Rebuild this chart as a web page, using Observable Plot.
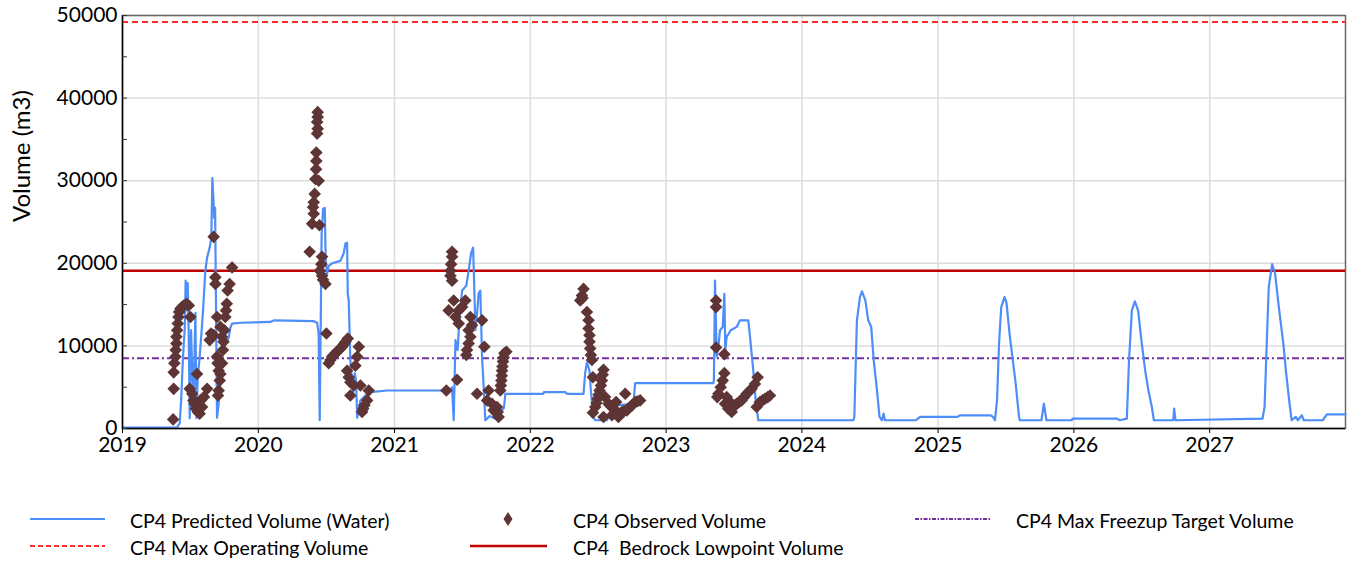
<!DOCTYPE html>
<html><head><meta charset="utf-8">
<script src="https://cdn.jsdelivr.net/npm/d3@7"></script>
<script src="https://cdn.jsdelivr.net/npm/@observablehq/plot@0.6"></script>
<style>
body{margin:0;background:#fff;font-family:Lato,sans-serif;}
#wrap{position:relative;width:1351px;height:563px;overflow:hidden;}
#chart{position:absolute;left:0;top:0;}
.leg{position:absolute;font-size:19.5px;color:#000;white-space:pre;line-height:20px;}
.sw{position:absolute;}
</style></head><body>
<div id="wrap"><div id="chart"></div><div id="legend"></div></div>
<script>
// ---- data (decimal year, m3) ----
const predT = [2019.000,2019.402,2019.421,2019.432,2019.441,2019.451,2019.458,2019.465,2019.471,2019.480,2019.488,2019.495,2019.505,2019.513,2019.522,2019.537,2019.544,2019.554,2019.568,2019.579,2019.593,2019.610,2019.623,2019.642,2019.654,2019.662,2019.671,2019.676,2019.682,2019.686,2019.696,2019.708,2019.721,2019.733,2019.757,2019.782,2019.794,2019.807,2019.868,2020.088,2020.118,2020.404,2020.432,2020.443,2020.451,2020.461,2020.465,2020.476,2020.488,2020.495,2020.505,2020.517,2020.542,2020.603,2020.627,2020.640,2020.652,2020.657,2020.664,2020.676,2020.696,2020.708,2020.718,2020.726,2020.750,2020.774,2020.799,2020.824,2020.946,2021.412,2021.424,2021.436,2021.449,2021.465,2021.480,2021.498,2021.529,2021.546,2021.564,2021.579,2021.586,2021.596,2021.608,2021.620,2021.632,2021.645,2021.657,2021.669,2021.700,2021.740,2021.806,2021.816,2022.096,2022.100,2022.257,2022.270,2022.392,2022.404,2022.417,2022.436,2022.446,2022.465,2022.478,2022.564,2022.588,2022.640,2022.760,2022.772,2023.348,2023.352,2023.360,2023.373,2023.385,2023.397,2023.417,2023.429,2023.436,2023.446,2023.476,2023.520,2023.544,2023.605,2023.618,2023.642,2023.662,2023.679,2024.378,2024.385,2024.396,2024.404,2024.426,2024.441,2024.466,2024.487,2024.509,2024.527,2024.549,2024.570,2024.588,2024.600,2024.610,2024.838,2024.869,2025.144,2025.160,2025.388,2025.404,2025.419,2025.434,2025.449,2025.465,2025.489,2025.504,2025.526,2025.547,2025.571,2025.596,2025.602,2025.761,2025.779,2025.798,2025.984,2025.990,2026.320,2026.335,2026.390,2026.406,2026.427,2026.449,2026.473,2026.494,2026.525,2026.549,2026.574,2026.589,2026.732,2026.738,2026.748,2027.389,2027.404,2027.420,2027.435,2027.460,2027.481,2027.512,2027.542,2027.563,2027.588,2027.603,2027.634,2027.649,2027.679,2027.693,2027.832,2027.863,2028.000];
const predV = [100,120,640,3400,7050,10300,11900,17900,14300,17600,11000,1250,11900,7050,3400,14000,1250,6200,8600,11000,14300,19100,20700,21900,23100,30300,27200,25500,26700,19100,1300,3000,6200,8600,10300,11000,12200,12700,12800,12900,13100,13000,12800,11500,1000,17000,23600,26600,26700,20300,18700,19700,20000,20300,21200,22400,22500,16300,15500,8200,4200,6700,5800,1300,3400,3800,4200,4400,4600,4600,5000,1000,10700,9500,13900,16700,17300,19100,21200,21900,17900,11900,13900,16400,16700,8600,5000,1000,1500,1200,2500,4200,4200,4400,4400,4200,4200,6700,8000,7000,4600,1400,1000,1000,1800,2800,3000,5500,5500,5800,17900,8700,9900,11900,12300,16300,9500,11100,11900,12300,13100,13100,11100,7000,3000,1000,1000,1400,8300,13100,15900,16600,15500,13100,12300,8300,5000,1400,1000,1800,1000,1000,1400,1400,1600,1600,1400,1000,3400,10300,14700,15900,15200,11500,8700,5500,1400,1000,1000,3000,1000,1000,1200,1200,1000,1200,8300,14300,15400,14300,11100,7000,4600,2600,1000,1000,2400,1000,1200,2600,10300,17100,19900,18800,14300,10300,6700,3000,1000,1400,1000,1600,1000,1000,1700,1700];

const obsT = [2019.373,2019.377,2019.377,2019.382,2019.390,2019.392,2019.397,2019.397,2019.402,2019.407,2019.412,2019.417,2019.426,2019.439,2019.451,2019.471,2019.488,2019.500,2019.549,2019.495,2019.513,2019.522,2019.530,2019.540,2019.555,2019.568,2019.574,2019.586,2019.600,2019.623,2019.671,2019.684,2019.684,2019.696,2019.652,2019.642,2019.671,2019.721,2019.733,2019.696,2019.700,2019.708,2019.716,2019.708,2019.703,2019.721,2019.733,2019.740,2019.744,2019.750,2019.757,2019.762,2019.768,2019.774,2019.789,2019.807,
2020.436,2020.436,2020.432,2020.436,2020.432,2020.426,2020.426,2020.424,2020.419,2020.443,2020.414,2020.407,2020.402,2020.407,2020.395,2020.449,2020.377,2020.468,2020.463,2020.451,2020.468,2020.493,2020.475,2020.500,2020.517,2020.530,2020.542,2020.555,2020.566,2020.578,2020.590,2020.603,2020.615,2020.628,2020.640,2020.657,2020.738,2020.726,2020.713,2020.652,2020.664,2020.676,2020.701,2020.750,2020.676,2020.811,2020.799,2020.779,2020.762,2020.770,
2021.424,2021.424,2021.417,2021.412,2021.412,2021.424,2021.436,2021.399,2021.473,2021.522,2021.498,2021.449,2021.473,2021.559,2021.571,2021.546,2021.559,2021.546,2021.534,2021.529,2021.645,2021.662,2021.461,2021.382,2021.608,2021.693,2021.682,2021.718,2021.755,2021.730,2021.767,2021.760,2021.779,2021.787,2021.792,2021.799,2021.809,2021.824,2021.783,2021.790,2021.795,2021.804,
2022.392,2022.380,2022.368,2022.385,2022.417,2022.429,2022.429,2022.436,2022.436,2022.441,2022.446,2022.454,2022.461,2022.539,2022.527,2022.510,2022.495,2022.478,2022.461,2022.551,2022.576,2022.601,2022.601,2022.625,2022.632,2022.649,2022.674,2022.699,2022.711,2022.735,2022.772,2022.809,2022.539,2022.488,2022.503,2022.520,2022.533,2022.586,2022.615,2022.660,2022.690,2022.720,2022.750,2022.790,
2023.368,2023.368,2023.368,2023.429,2023.429,2023.417,2023.402,2023.385,2023.377,2023.446,2023.434,2023.458,2023.483,2023.495,2023.471,2023.508,2023.520,2023.538,2023.556,2023.575,2023.593,2023.612,2023.630,2023.654,2023.674,2023.667,2023.691,2023.710,2023.728,2023.748,2023.765];
const obsV = [1100,4800,6800,7900,8700,9500,10300,11100,11900,12700,13500,14100,14500,14700,14900,15100,14900,13500,6600,4800,4200,3400,3000,2400,2000,1800,3400,2600,3800,4800,23200,18300,17500,13500,11500,10700,11300,12300,11100,8700,7900,7000,5800,4600,4000,6600,7900,9500,10500,11900,13500,14300,15100,16700,17500,19500,
38300,37700,37100,36300,35700,33400,32400,31400,30200,30000,28400,27400,26800,26000,24800,24600,21400,20800,19900,19100,18500,17500,18000,11500,7900,8300,8700,8900,9100,9300,9500,9700,9900,10200,10500,10900,9900,8700,7600,7000,6200,5600,5200,5200,4000,4600,3400,2800,2000,2400,
21400,20800,19900,19100,18500,17900,15500,14300,14300,15500,14700,13500,12700,13500,12500,11900,11100,10300,9500,8900,13100,9900,5900,4600,4200,4600,3400,3000,2600,2200,1400,2000,4600,5800,7000,8100,9100,9300,5200,6400,7500,8600,
16900,16100,15500,15800,14100,13100,12100,11300,10500,9700,8900,8300,6200,7100,5800,4600,3600,2600,1900,3800,3000,2600,1600,2200,3200,1400,2000,4200,2200,2600,3200,3400,1400,3100,4100,5200,6500,2800,2400,1700,2100,2400,2800,3300,
15500,14700,9800,9000,6700,5800,5000,4200,3800,3800,3000,2400,2000,2600,3200,2800,3000,3200,3400,3800,4200,4500,4800,5400,6200,2600,3200,3400,3600,3800,4000];

const maxOperating = 49200;
const bedrockLowpoint = 19100;
const maxFreezeup = 8500;

const yTicks = [0,10000,20000,30000,40000,50000];
const yMinor = [0,5000,10000,15000,20000,25000,30000,35000,40000,45000,50000];
const tickYears = [2019,2020,2021,2022,2023,2024,2025,2026,2027];

const legendLabels = ["CP4 Predicted Volume (Water)","CP4 Observed Volume","CP4 Max Freezup Target Volume","CP4 Max Operating Volume","CP4  Bedrock Lowpoint Volume"];
const yLabel = "Volume (m3)";

// ---- build ----
const toDate = t => { const y = Math.floor(t); const a = Date.UTC(y,0,1), b = Date.UTC(y+1,0,1); return new Date(a + (t-y)*(b-a)); };
const pred = predT.map((t,i)=>({date: toDate(t), v: predV[i]}));
const obs = obsT.map((t,i)=>({date: toDate(t), v: obsV[i]}));
const x0 = new Date(Date.UTC(2019,0,1)), x1 = new Date(Date.UTC(2028,0,1));
const yearTicks = tickYears.map(y => new Date(Date.UTC(y,0,1)));

const C = {pred:"#4d8ef8", obs:"#5f3434", op:"#ff2b2b", bed:"#c00000", frz:"#7030a0"};

const diamondSym = {draw(ctx){ ctx.moveTo(0,-6.3); ctx.lineTo(6.3,0); ctx.lineTo(0,6.3); ctx.lineTo(-6.3,0); ctx.closePath(); }};

const chart = Plot.plot({
  width: 1351, height: 470,
  marginLeft: 122, marginRight: 6, marginTop: 15, marginBottom: 42,
  style: {fontFamily: "Lato, sans-serif", color: "#000", background: "#fff", overflow: "visible"},
  x: {type: "utc", domain: [x0, x1]},
  y: {domain: [0, 50000]},
  marks: [
    Plot.gridX(yearTicks.slice(1), {stroke: "#dcdcdc", strokeOpacity: 1, strokeWidth: 1.5}),
    Plot.gridY(yTicks.slice(1), {stroke: "#dcdcdc", strokeOpacity: 1, strokeWidth: 1.5}),
    Plot.frame({stroke: "#666", strokeWidth: 1.5}),
    Plot.ruleY([maxOperating], {stroke: C.op, strokeWidth: 2, strokeDasharray: "6,4"}),
    Plot.ruleY([bedrockLowpoint], {stroke: C.bed, strokeWidth: 2.5}),
    Plot.ruleY([maxFreezeup], {stroke: C.frz, strokeWidth: 2, strokeDasharray: "7,3,2,3"}),
    Plot.line(pred, {x: "date", y: "v", stroke: C.pred, strokeWidth: 2.2}),
    Plot.dot(obs, {x: "date", y: "v", symbol: diamondSym, r: 5.5, fill: C.obs, stroke: null}),
    Plot.ruleX([x0], {stroke: "#000", strokeWidth: 1.5}),
    Plot.ruleY([0], {stroke: "#000", strokeWidth: 1.5}),
    Plot.axisY(yMinor, {tickSize: 5, dx: 5, tickFormat: () => "", label: null, stroke: "#333"}),
    Plot.axisY(yTicks, {tickSize: 0, tickPadding: 5, fontSize: 21, label: null, tickFormat: d => String(d)}),
    Plot.axisX(yearTicks, {tickSize: 5, tickPadding: 4, fontSize: 21, tickFormat: "%Y", label: null}),
    Plot.text([yLabel], {text: d => d, frameAnchor: "left", dx: -100, rotate: -90, fontSize: 24, fill: "#000"})
  ]
});
document.getElementById("chart").appendChild(chart);

// ---- legend ----
const leg = document.getElementById("legend");
function addText(txt, x, cy){ const d=document.createElement("div"); d.className="leg"; d.textContent=txt; d.style.left=x+"px"; d.style.top=(cy-10)+"px"; leg.appendChild(d); }
function addLine(x1, x2, cy, color, w, dash){
  const ns="http://www.w3.org/2000/svg";
  const s=document.createElementNS(ns,"svg"); s.setAttribute("class","sw");
  s.setAttribute("width", x2-x1); s.setAttribute("height", 10);
  s.style.left=x1+"px"; s.style.top=(cy-5)+"px"; s.style.position="absolute";
  const l=document.createElementNS(ns,"line"); l.setAttribute("x1",0); l.setAttribute("x2",x2-x1); l.setAttribute("y1",5); l.setAttribute("y2",5);
  l.setAttribute("stroke",color); l.setAttribute("stroke-width",w); if(dash) l.setAttribute("stroke-dasharray",dash);
  s.appendChild(l); leg.appendChild(s);
}
function addDiamond(cx, cy){
  const ns="http://www.w3.org/2000/svg";
  const s=document.createElementNS(ns,"svg"); s.setAttribute("width",12); s.setAttribute("height",16);
  s.style.position="absolute"; s.style.left=(cx-6)+"px"; s.style.top=(cy-8)+"px";
  const p=document.createElementNS(ns,"path"); p.setAttribute("d","M6,1L10.5,8L6,15L1.5,8Z"); p.setAttribute("fill",C.obs);
  s.appendChild(p); leg.appendChild(s);
}
addLine(30,105,519,C.pred,2.2);
addText(legendLabels[0],130,521);
addDiamond(508,519);
addText(legendLabels[1],573,521);
addLine(915,990,519,C.frz,2,"4,1.5,1.5,1.5");
addText(legendLabels[2],1016,521);
addLine(30,105,546,C.op,2,"5,3");
addText(legendLabels[3],130,548);
addLine(470,547,546,C.bed,2.5);
addText(legendLabels[4],573,548);
</script>
</body></html>
